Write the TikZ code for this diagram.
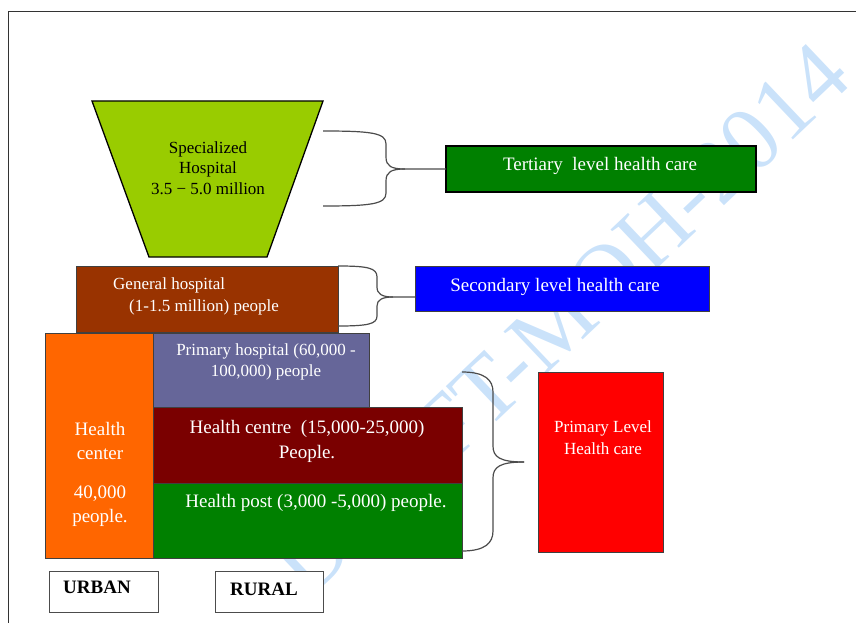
\documentclass[tikz,border=0pt]{standalone}
\usepackage{fontspec}
\setmainfont{Liberation Serif}
\definecolor{specgreen}{HTML}{99CC00}
\definecolor{darkgreen}{HTML}{008000}
\definecolor{brownbox}{HTML}{993300}
\definecolor{bluebox}{HTML}{0000FF}
\definecolor{orangebox}{HTML}{FF6600}
\definecolor{purplebox}{HTML}{666699}
\definecolor{maroonbox}{HTML}{7A0000}
\definecolor{redbox}{HTML}{FF0000}
\definecolor{wmblue}{RGB}{202,226,250}
\begin{document}
\begin{tikzpicture}[x=1pt,y=-1pt,
  box/.style={draw=black!75, line width=0.9pt, inner sep=0pt, outer sep=0pt, anchor=north west},
  lbl/.style={text=white, inner sep=0pt, align=center},
  blk/.style={text=black, inner sep=0pt, align=center},
  brace/.style={draw=black!70, line width=1.2pt},
]
\useasboundingbox (0,0) rectangle (856,623);
% watermark
\node[text=wmblue, font=\fontsize{92}{92}\selectfont, rotate=43.5, anchor=east, inner sep=0pt] (wm) at (834,60) {DRAFT-MOH-2014};
% page frame
\draw[line width=1pt, black!80] (8,623) -- (8,12) -- (856,12);
% specialized hospital trapezoid
\coordinate (sTL) at (92,101);
\coordinate (sTR) at (323,101);
\coordinate (sBR) at (267,257);
\coordinate (sBL) at (149,257);
\draw[fill=specgreen, line width=1.3pt, line join=miter] (sTL) -- (sTR) -- (sBR) -- (sBL) -- cycle;
\node[blk, font=\fontsize{17}{20.5}\selectfont] (specT) at (208,168) {Specialized\\Hospital\\3.5 − 5.0 million};
% boxes
\node[box, fill=darkgreen, draw=black, line width=2pt, minimum width=310pt, minimum height=46pt] (tert) at (446,146) {};
\node[box, fill=brownbox, minimum width=262pt, minimum height=66pt] (gen) at (76,266) {};
\node[box, fill=bluebox, minimum width=294pt, minimum height=45pt] (sec) at (415,266) {};
\node[box, fill=orangebox, minimum width=108pt, minimum height=225pt] (hc) at (45,333) {};
\node[box, fill=purplebox, minimum width=216pt, minimum height=74pt] (ph) at (153,333) {};
\node[box, fill=maroonbox, minimum width=309pt, minimum height=76pt] (hcen) at (153,407) {};
\node[box, fill=darkgreen, minimum width=309pt, minimum height=75pt] (hp) at (153,483) {};
\node[box, fill=redbox, minimum width=125pt, minimum height=180pt] (red) at (538,372) {};
\node[box, fill=white, draw=black!70, minimum width=109pt, minimum height=41pt] (urb) at (49,571) {};
\node[box, fill=white, draw=black!70, minimum width=108pt, minimum height=41pt] (rur) at (215,571) {};
% texts
\node[lbl, font=\fontsize{19}{23}\selectfont] (tertT) at (600,166) {Tertiary\ \ level health care};
\node[lbl, font=\fontsize{19}{23}\selectfont] (secT) at (555,287) {Secondary level health care};
\node[lbl, align=left, anchor=west, font=\fontsize{17}{22}\selectfont] (genT) at (113,296.5) {General hospital\\\hspace*{16pt}(1-1.5 million) people};
\node[lbl, font=\fontsize{17}{21.5}\selectfont] (phT) at (266,362) {Primary hospital (60,000 -\\100,000) people};
\node[lbl, font=\fontsize{19}{25}\selectfont] (hcenT) at (307,441) {Health centre\ \ (15,000-25,000)\\People.};
\node[lbl, font=\fontsize{19}{23}\selectfont] (hpT) at (316,502.5) {Health post (3,000 -5,000) people.};
\node[lbl, font=\fontsize{19}{24}\selectfont] (hcT1) at (100,440.5) {Health\\center};
\node[lbl, font=\fontsize{19}{24}\selectfont] (hcT2) at (100,506) {40,000\\people.};
\node[lbl, font=\fontsize{17}{22}\selectfont] (redT) at (603,438) {Primary Level\\Health care};
\node[blk, font=\fontsize{19}{23}\selectfont\bfseries] (urbT) at (97,587) {URBAN};
\node[blk, font=\fontsize{19}{23}\selectfont\bfseries] (rurT) at (264,589) {RURAL};
% braces
\coordinate (tTop) at (323,131);
\coordinate (tBot) at (323,206);
\coordinate (sTop) at (338,266);
\coordinate (sBot) at (338,326);
\coordinate (sTip) at (415,297);
\coordinate (pTop) at (462,372);
\coordinate (pBot) at (462,551);
\coordinate (pTip) at (524,462);
\draw[brace] (tTop) .. controls (372,131) and (386,133) .. (386,144) -- (386,157) .. controls (386,166) and (391,169) .. (405,169) -- (tert.west);
\draw[brace] (tBot) .. controls (372,206) and (386,204) .. (386,193) -- (386,181) .. controls (386,172) and (391,169) .. (405,169);
\draw[brace] (sTop) .. controls (368,266) and (377,268) .. (377,277) -- (377,287) .. controls (377,294) and (382,297) .. (393,297) -- (sTip);
\draw[brace] (sBot) .. controls (368,326) and (377,324) .. (377,316) -- (377,306) .. controls (377,300) and (382,297) .. (393,297);
\draw[brace] (pTop) .. controls (485,372) and (493,380) .. (493,392) -- (493,446) .. controls (493,457) and (500,462) .. (pTip);
\draw[brace] (pBot) .. controls (485,551) and (493,543) .. (493,531) -- (493,478) .. controls (493,467) and (500,462) .. (pTip);
\end{tikzpicture}
\end{document}
